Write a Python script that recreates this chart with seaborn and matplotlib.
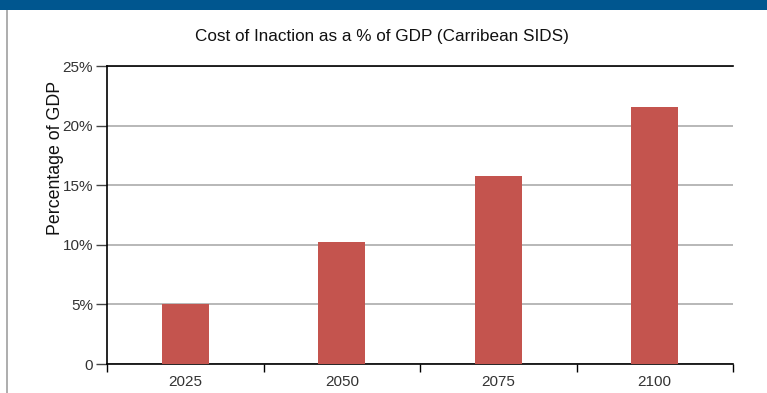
import matplotlib
matplotlib.use("Agg")
import matplotlib.pyplot as plt
from matplotlib.patches import Rectangle
from matplotlib.lines import Line2D
import seaborn as sns
import pandas as pd

# Cost of inaction, Caribbean SIDS, share of GDP (%)
years = ["2025", "2050", "2075", "2100"]
cost_pct = [5.0, 10.2, 15.8, 21.6]
y_ticks = [0, 5, 10, 15, 20, 25]
y_tick_labels = ["0", "5%", "10%", "15%", "20%", "25%"]

df = pd.DataFrame({"year": years, "cost": cost_pct})

sns.set_theme(style="white")
plt.rcParams["font.family"] = ["Liberation Sans", "DejaVu Sans"]

W, H = 767, 393
fig = plt.figure(figsize=(W / 100, H / 100), dpi=100)
ax = fig.add_axes([107 / W, 1 - 364 / H, (733 - 107) / W, (364 - 66) / H])

sns.barplot(data=df, x="year", y="cost", color="#C4544E", saturation=1,
            width=0.3, linewidth=0, edgecolor="none", ax=ax, zorder=3)

ax.set_xlim(-0.5, len(years) - 0.5)
ax.set_ylim(0, 25)
ax.set_yticks(y_ticks)
ax.set_yticklabels(y_tick_labels)
ax.yaxis.grid(True, color="#ABABAB", linewidth=1.2, zorder=0)
ax.set_axisbelow(True)

# x ticks sit on category boundaries; labels at category centres
ax.set_xticks([i - 0.5 for i in range(len(years) + 1)], minor=False)
ax.set_xticklabels([""] * (len(years) + 1))
ax.set_xticks(range(len(years)), minor=True)
ax.set_xticklabels(years, minor=True)
ax.tick_params(axis="x", which="major", direction="out", length=6, width=1,
               color="black", bottom=True)
ax.tick_params(axis="x", which="minor", length=0, pad=8, labelsize=11,
               labelcolor="#333333")
ax.tick_params(axis="y", direction="out", length=8, width=1, color="#444444",
               left=True, labelsize=11, labelcolor="#333333", pad=2)

for side in ["left", "bottom", "top"]:
    ax.spines[side].set_visible(True)
    ax.spines[side].set_color("black")
    ax.spines[side].set_linewidth(1.2)
ax.spines["right"].set_visible(False)

ax.set_xlabel("")
ax.set_ylabel("")
fig.text(56 / W, 1 - 158 / H, "Percentage of GDP", rotation=90,
         ha="center", va="center", fontsize=12.8, color="#111111")

fig.text(382 / W, 1 - 36 / H, "Cost of Inaction as a % of GDP (Carribean SIDS)",
         ha="center", va="center", fontsize=12.3, color="#111111")

# header band and left frame rule
fig.patches.append(Rectangle((0, 1 - 10 / H), 1, 10 / H, transform=fig.transFigure,
                             facecolor="#00568F", edgecolor="none", zorder=5))
fig.lines.append(Line2D([6.5 / W, 6.5 / W], [0, 1 - 10 / H], transform=fig.transFigure,
                        color="#A0A0A0", linewidth=1.2))

fig.savefig("out.png", dpi=100, facecolor="white")
